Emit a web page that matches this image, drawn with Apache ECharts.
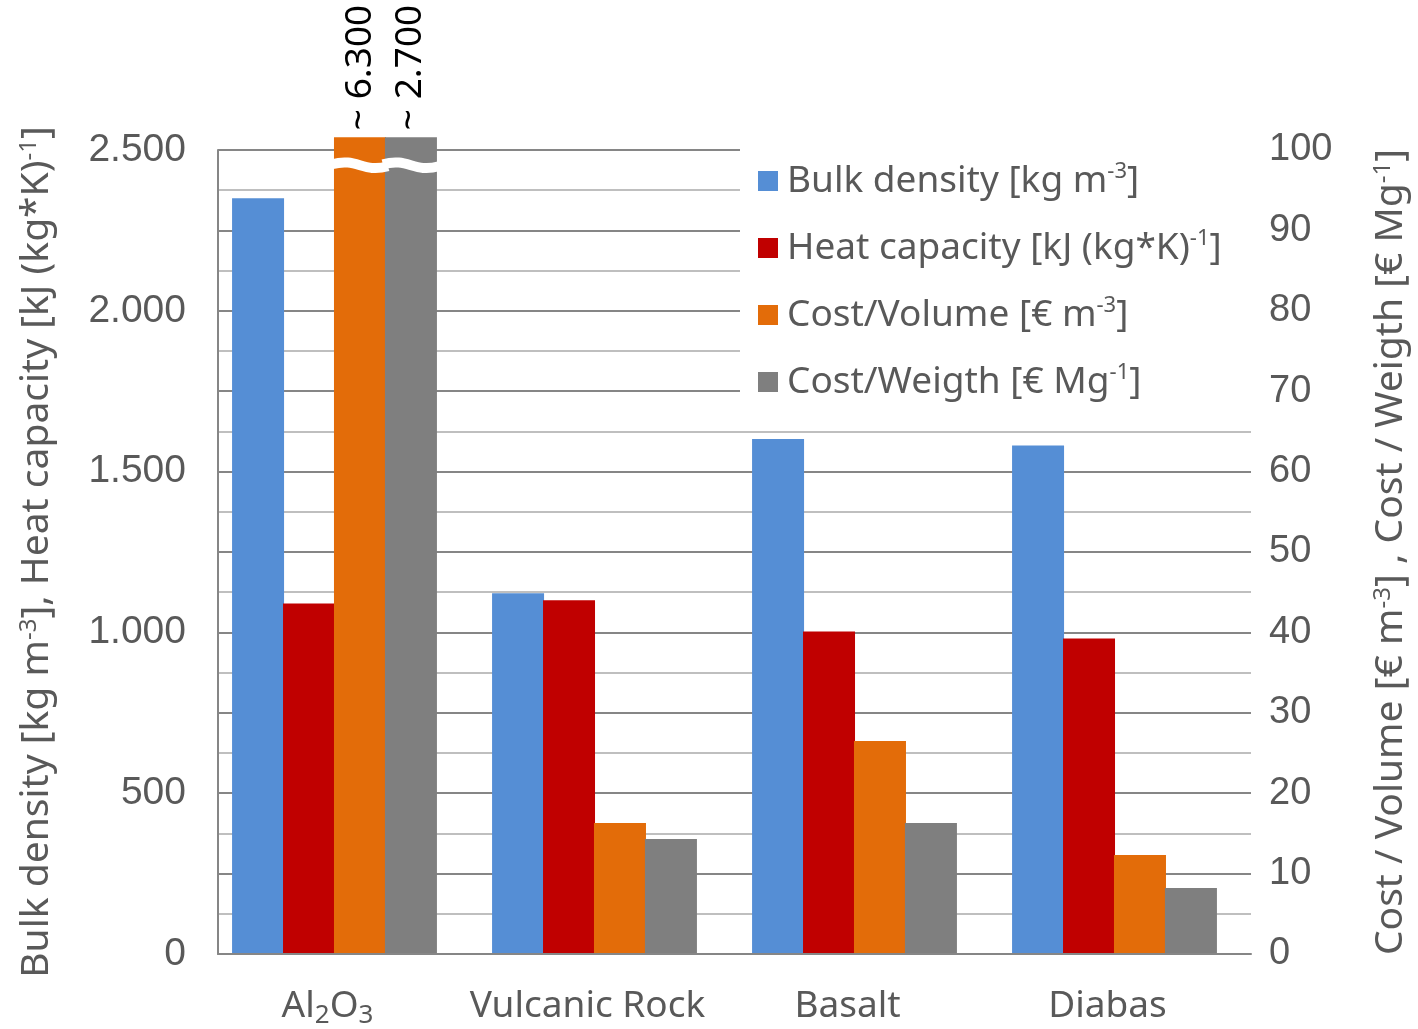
<!DOCTYPE html>
<html>
<head>
<meta charset="utf-8">
<script src="https://cdn.jsdelivr.net/npm/echarts@6/dist/echarts.min.js"></script>
<style>
  html, body { margin: 0; padding: 0; background: #fff; }
  #chart { width: 1418px; height: 1029px; }
</style>
</head>
<body>
<div id="chart"></div>
<script>
// data
const categories = ["Al2O3", "Vulcanic Rock", "Basalt", "Diabas"];
const bulkDensity = [2350, 1120, 1600, 1580];      // left axis
const heatCapacity = [1088, 1098, 1001, 979];      // left axis
const costVolume = [6300, 16.2, 26.4, 12.2];       // right axis
const costWeight = [2700, 14.2, 16.2, 8.1];        // right axis
const leftMax = 2500, leftStep = 500;
const rightMax = 100, rightStep = 10;
const brokenTop = 101.6;   // where a cut bar ends on the right axis
const breakAt = 98.1;      // where the white break sits

const names = [
  "Bulk density [kg m-3]",
  "Heat capacity [kJ (kg*K)-1]",
  "Cost/Volume [€ m-3]",
  "Cost/Weigth [€ Mg-1]"
];
const richNames = {
  "Bulk density [kg m-3]": "Bulk density [kg m{sup|-3}]",
  "Heat capacity [kJ (kg*K)-1]": "Heat capacity [kJ (kg*K){sup|-1}]",
  "Cost/Volume [€ m-3]": "Cost/Volume [€ m{sup|-3}]",
  "Cost/Weigth [€ Mg-1]": "Cost/Weigth [€ Mg{sup|-1}]"
};
const colors = ["#558ED5", "#C00000", "#E36C09", "#7F7F7F"];
const textColor = "#595959";
const font = "Noto Sans";

function dotThousands(v) {
  return String(v).replace(/\B(?=(\d{3})+(?!\d))/g, ".");
}

// values above the right axis are drawn cut, with their real value as label
function cutBars(arr) {
  return arr.map(v => v > rightMax ? {
    value: brokenTop,
    label: {
      show: true, position: "top", rotate: 90, distance: 7,
      align: "left", verticalAlign: "middle",
      formatter: "~ " + dotThousands(v),
      fontFamily: font, fontSize: 37, color: "#000"
    }
  } : v);
}
const breaks = [];
costVolume.forEach((v, i) => { if (v > rightMax) breaks.push([i, breakAt, 2]); });
costWeight.forEach((v, i) => { if (v > rightMax) breaks.push([i, breakAt, 3]); });

const supRich = {
  sup: { fontSize: 24, verticalAlign: "top", lineHeight: 22, color: textColor, fontFamily: font }
};
const barW = 52;
const barGap = "-2%";

const chart = echarts.init(document.getElementById("chart"));
chart.setOption({
  animation: false,
  legend: {
    data: names,
    orient: "vertical",
    left: 740,
    top: 144,
    backgroundColor: "#fff",
    padding: [17, 30, 22, 18],
    itemGap: 27,
    itemWidth: 20,
    itemHeight: 20,
    icon: "rect",
    formatter: n => richNames[n],
    textStyle: {
      fontFamily: font, fontSize: 37, color: textColor, lineHeight: 40,
      padding: [0, 0, 0, 4],
      rich: { sup: { fontSize: 22, verticalAlign: "top", lineHeight: 22, color: textColor, fontFamily: font } }
    }
  },
  grid: [
    { left: 218, right: 166, top: 150, bottom: 75 },
    { left: 204.5, right: 173.5, top: 150, bottom: 75 }
  ],
  xAxis: [
    {
      type: "category", gridIndex: 0, data: categories,
      axisLine: { lineStyle: { color: "#868686", width: 2 } },
      axisTick: { show: false }, axisLabel: { show: false }
    },
    {
      type: "category", gridIndex: 1, data: categories,
      axisLine: { show: false }, axisTick: { show: false },
      axisLabel: {
        interval: 0, margin: 30, fontFamily: font, fontSize: 37, color: textColor,
        lineHeight: 46, padding: [0, 14, 0, 0],
        formatter: c => c === "Al2O3" ? "Al{sub|2}O{sub|3}" : c,
        rich: { sub: { fontSize: 26, verticalAlign: "bottom", lineHeight: 24, color: textColor, fontFamily: font } }
      }
    }
  ],
  yAxis: [
    {
      type: "value", gridIndex: 0, position: "left",
      min: 0, max: leftMax, interval: leftStep,
      axisLine: { show: true, lineStyle: { color: "#868686", width: 2 } },
      axisTick: { show: false },
      splitLine: { show: false },
      axisLabel: {
        margin: 32, fontFamily: "Liberation Sans", fontSize: 39, color: textColor,
        formatter: v => dotThousands(v)
      },
      name: "Bulk density [kg m{sup|-3}], Heat capacity [kJ (kg*K){sup|-1}]",
      nameLocation: "middle", nameRotate: 90, nameGap: 162,
      nameTextStyle: { fontFamily: font, fontSize: 39, color: textColor, rich: supRich }
    },
    {
      type: "value", gridIndex: 0, position: "right",
      min: 0, max: rightMax, interval: rightStep,
      axisLine: { show: false }, axisTick: { show: false },
      splitLine: { show: true, lineStyle: { color: "#868686", width: 2 } },
      minorTick: { show: false, splitNumber: 2 },
      minorSplitLine: { show: true, lineStyle: { color: "#BFBFBF", width: 2 } },
      axisLabel: { margin: 18, fontFamily: "Liberation Sans", fontSize: 38, color: textColor },
      name: "Cost / Volume [€ m{sup|-3}] , Cost / Weigth [€ Mg{sup|-1}]",
      nameLocation: "middle", nameRotate: 90, nameGap: 120,
      nameTextStyle: { fontFamily: font, fontSize: 39, color: textColor, rich: supRich }
    },
    {
      type: "value", gridIndex: 1, min: 0, max: leftMax, show: false, splitLine: { show: false }
    },
    {
      type: "value", gridIndex: 1, min: 0, max: rightMax, show: false, splitLine: { show: false }
    }
  ],
  series: [
    {
      name: names[0], type: "bar", xAxisIndex: 1, yAxisIndex: 2,
      barWidth: barW, barGap: barGap, data: bulkDensity,
      itemStyle: { color: colors[0] }
    },
    {
      name: names[1], type: "bar", xAxisIndex: 1, yAxisIndex: 2,
      barWidth: barW, barGap: barGap, data: heatCapacity,
      itemStyle: { color: colors[1] }
    },
    {
      name: names[2], type: "bar", xAxisIndex: 1, yAxisIndex: 3, clip: false,
      barWidth: barW, barGap: barGap, data: cutBars(costVolume),
      itemStyle: { color: colors[2] }
    },
    {
      name: names[3], type: "bar", xAxisIndex: 1, yAxisIndex: 3, clip: false,
      barWidth: barW, barGap: barGap, data: cutBars(costWeight),
      itemStyle: { color: colors[3] }
    },
    {
      // white wavy cut across the bars that run off the scale
      type: "custom", xAxisIndex: 1, yAxisIndex: 3, z: 5, clip: false,
      silent: true, data: breaks,
      renderItem: function (params, api) {
        const layout = api.barLayout({ count: 4, barWidth: barW, barGap: barGap });
        const slot = layout[api.value(2)];
        const p = api.coord([api.value(0), api.value(1)]);
        const x0 = p[0] + slot.offsetCenter - slot.width / 2 - 2;
        const x1 = x0 + slot.width + 4;
        const w = x1 - x0;
        return {
          type: "bezierCurve",
          shape: {
            x1: x0, y1: p[1] - 1,
            cpx1: x0 + w * 0.45, cpy1: p[1] - 8,
            cpx2: x0 + w * 0.55, cpy2: p[1] + 8,
            x2: x1, y2: p[1] + 1
          },
          style: { stroke: "#fff", lineWidth: 10, fill: null }
        };
      }
    }
  ]
});
window.addEventListener("resize", function () {
  chart.resize();
});
</script>
</body>
</html>
